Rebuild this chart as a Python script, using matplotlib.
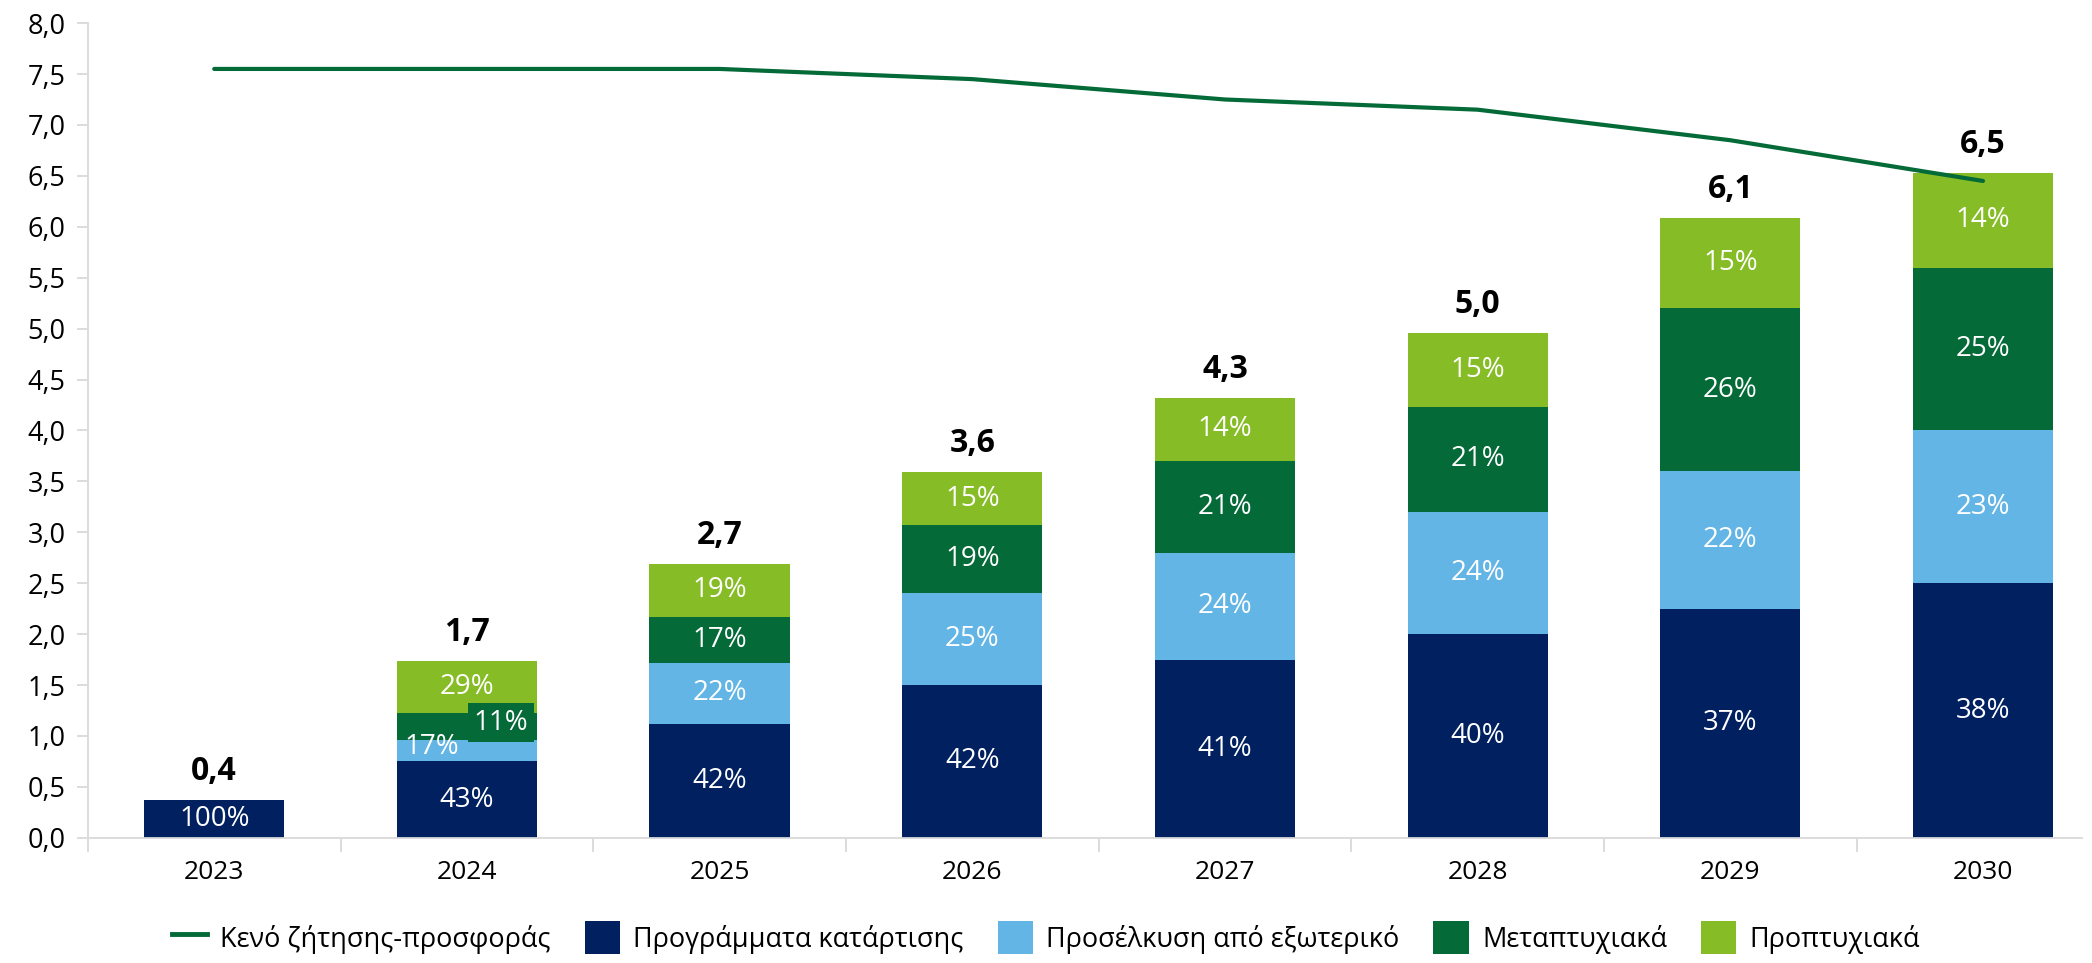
import numpy as np
import matplotlib
matplotlib.use("Agg")
import matplotlib.pyplot as plt
from matplotlib.ticker import MultipleLocator, FixedLocator, FuncFormatter
from matplotlib.lines import Line2D
from matplotlib.patches import Patch

plt.rcParams["font.family"] = ["Open Sans", "DejaVu Sans"]

years = ["2023", "2024", "2025", "2026", "2027", "2028", "2029", "2030"]

# segment heights
programmes = [0.37, 0.75, 1.12, 1.50, 1.75, 2.00, 2.25, 2.50]
abroad = [0.00, 0.21, 0.60, 0.90, 1.05, 1.20, 1.35, 1.50]
postgrad = [0.00, 0.27, 0.45, 0.67, 0.90, 1.03, 1.60, 1.60]
undergrad = [0.00, 0.51, 0.52, 0.52, 0.62, 0.73, 0.89, 0.93]

# percentage labels as printed
pct_programmes = ["100%", "43%", "42%", "42%", "41%", "40%", "37%", "38%"]
pct_abroad = ["", "17%", "22%", "25%", "24%", "24%", "22%", "23%"]
pct_postgrad = ["", "11%", "17%", "19%", "21%", "21%", "26%", "25%"]
pct_undergrad = ["", "29%", "19%", "15%", "14%", "15%", "15%", "14%"]

totals = ["0,4", "1,7", "2,7", "3,6", "4,3", "5,0", "6,1", "6,5"]

# demand-supply gap line
gap = [7.55, 7.55, 7.55, 7.45, 7.25, 7.15, 6.85, 6.45]

series_names = ["Προγράμματα κατάρτισης", "Προσέλκυση από εξωτερικό",
                "Μεταπτυχιακά", "Προπτυχιακά"]
line_name = "Κενό ζήτησης-προσφοράς"

c_navy = "#002060"
c_light = "#62B5E5"
c_dgreen = "#046A38"
c_lgreen = "#86BC25"
c_grid = "#D9D9D9"

fig = plt.figure(figsize=(20.92, 9.63), dpi=100)
ax = fig.add_axes([0.042, 0.13, 0.953, 0.846])

x = np.arange(len(years))
w = 0.555
segs = [programmes, abroad, postgrad, undergrad]
pcts = [pct_programmes, pct_abroad, pct_postgrad, pct_undergrad]
colors = [c_navy, c_light, c_dgreen, c_lgreen]

bottom = np.zeros(len(years))
for vals, labs, col in zip(segs, pcts, colors):
    vals = np.array(vals)
    ax.bar(x, vals, w, bottom=bottom, color=col, zorder=2)
    for i in range(len(years)):
        if not labs[i]:
            continue
        cy = bottom[i] + vals[i] / 2
        cx = x[i]
        kw = {}
        # 2024 labels don't fit, shifted like in the source chart
        if years[i] == "2024" and col == c_light:
            cx = x[i] - 0.14
            cy = 0.89
        if years[i] == "2024" and col == c_dgreen:
            cx = x[i] + 0.135
            cy = 1.13
            kw = dict(bbox=dict(facecolor=c_dgreen, edgecolor="none", pad=4))
        ax.text(cx, cy, labs[i], ha="center", va="center", color="white",
                fontsize=20, zorder=4, **kw)
    bottom = bottom + vals

for i in range(len(years)):
    ax.text(x[i], bottom[i] + 0.28, totals[i], ha="center", va="center",
            fontsize=23, fontweight="bold", color="black", zorder=4,
            bbox=dict(facecolor="white", edgecolor="none", pad=2))

ax.plot(x, gap, color=c_dgreen, lw=3, zorder=3, solid_capstyle="round")

ax.set_xlim(-0.5, 7.39)
ax.set_ylim(0, 8)

ax.yaxis.set_major_locator(MultipleLocator(0.5))
ax.yaxis.set_major_formatter(FuncFormatter(lambda v, p: f"{v:.1f}".replace(".", ",")))
ax.yaxis.set_minor_locator(FixedLocator([1, 2, 3, 4, 5, 6, 7]))
ax.grid(which="minor", axis="y", color=c_grid, lw=1.3, zorder=0)
ax.tick_params(axis="y", which="major", length=8, width=1.3, color=c_grid,
               labelsize=19.5, pad=8)
ax.tick_params(axis="y", which="minor", length=0)

ax.set_xticks(x)
ax.set_xticklabels(years)
ax.xaxis.set_minor_locator(FixedLocator(np.arange(-0.5, 7.5, 1.0)))
ax.tick_params(axis="x", which="major", length=0, labelsize=19, pad=16)
ax.tick_params(axis="x", which="minor", length=10, width=1.3, color=c_grid)

for s in ["top", "right"]:
    ax.spines[s].set_visible(False)
for s in ["left", "bottom"]:
    ax.spines[s].set_color(c_grid)
    ax.spines[s].set_linewidth(1.3)

handles = [Line2D([0], [0], color=c_dgreen, lw=3.5)]
handles += [Patch(facecolor=c) for c in colors]
fig.legend(handles, [line_name] + series_names, loc="center",
           bbox_to_anchor=(0.5, 0.026), ncol=5, frameon=False, fontsize=19.5,
           handlelength=1.3, handleheight=1.5, handletextpad=0.5,
           columnspacing=1.25)

fig.savefig("out.png", dpi=100)
